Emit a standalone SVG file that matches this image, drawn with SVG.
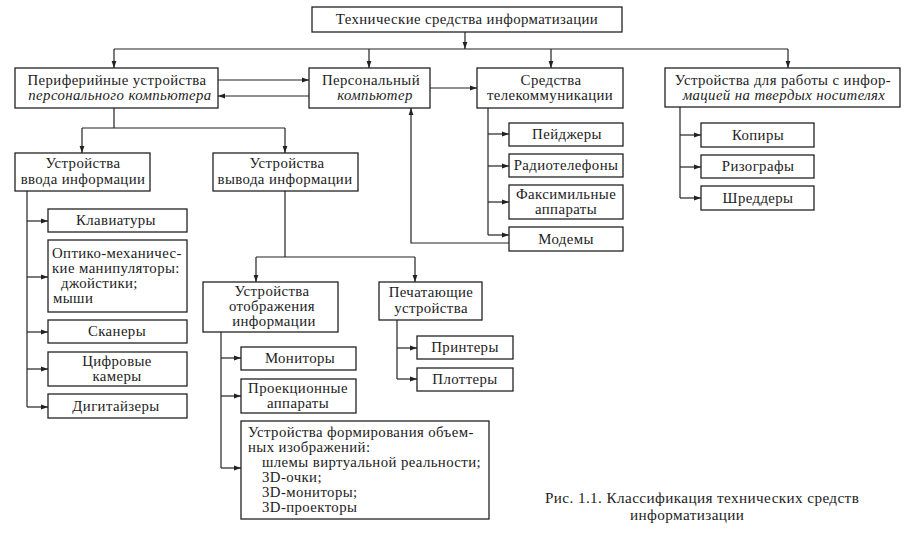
<svg xmlns="http://www.w3.org/2000/svg" width="912" height="536" viewBox="0 0 912 536">
<defs>
<marker id="ah" markerUnits="userSpaceOnUse" markerWidth="8" markerHeight="6" refX="7" refY="3" orient="auto">
<path d="M0,0.6 L7,3 L0,5.4 Z" fill="#222"/>
</marker>
<style>
rect{fill:#fff;stroke:#222;stroke-width:1.3}
text{font-family:"Liberation Serif","Times New Roman",serif;font-size:14.8px;fill:#222;letter-spacing:0.4px}
.c{text-anchor:middle}
.i{font-style:italic}
.cap{font-size:15.2px}
#connectors path{fill:none;stroke:#222;stroke-width:1.2}
.a{marker-end:url(#ah)}
</style>
</defs>
<rect x="0" y="0" width="912" height="536" style="fill:#fff;stroke:none"/>
<g id="connectors">
<path class="a" d="M465,32 V49"/>
<path d="M114,49 H788"/>
<path class="a" d="M114,49 V68"/>
<path class="a" d="M369,49 V68"/>
<path class="a" d="M551,49 V68"/>
<path class="a" d="M788,49 V68"/>
<path class="a" d="M218,80 H309"/>
<path class="a" d="M309,96 H218"/>
<path class="a" d="M430,88 H477"/>
<path d="M488,108 V235"/>
<path class="a" d="M488,134 H509"/>
<path class="a" d="M488,166 H509"/>
<path class="a" d="M488,202 H509"/>
<path class="a" d="M488,235 H509"/>
<path class="a" d="M509,243 H411 V108"/>
<path d="M680,107 V198"/>
<path class="a" d="M680,135 H701"/>
<path class="a" d="M680,167 H701"/>
<path class="a" d="M680,198 H701"/>
<path d="M114,108 V128 M82,128 H285"/>
<path class="a" d="M82,128 V153"/>
<path class="a" d="M285,128 V153"/>
<path d="M27,191 V407"/>
<path class="a" d="M27,221 H48"/>
<path class="a" d="M27,277 H48"/>
<path class="a" d="M27,332 H48"/>
<path class="a" d="M27,369 H48"/>
<path class="a" d="M27,407 H48"/>
<path d="M285,191 V257 M256,257 H415"/>
<path class="a" d="M256,257 V282"/>
<path class="a" d="M415,257 V282"/>
<path d="M221,332 V468"/>
<path class="a" d="M221,358 H241"/>
<path class="a" d="M221,396 H241"/>
<path class="a" d="M221,468 H241"/>
<path d="M397,320 V379"/>
<path class="a" d="M397,348 H417"/>
<path class="a" d="M397,379 H417"/>
</g>
<g id="n-top"><rect x="312" y="7" width="310" height="25"/><text class="c" x="467" y="24">Технические средства информатизации</text></g>
<g id="n-periph"><rect x="15" y="68" width="203" height="40"/><text class="c" x="117" y="85">Периферийные устройства</text><text class="c i" x="120" y="100">персонального компьютера</text></g>
<g id="n-pc"><rect x="309" y="68" width="121" height="40"/><text class="c" x="371" y="85">Персональный</text><text class="c i" x="375" y="100">компьютер</text></g>
<g id="n-telecom"><rect x="477" y="68" width="146" height="40"/><text class="c" x="551" y="85">Средства</text><text class="c" x="550" y="100">телекоммуникации</text></g>
<g id="n-hard"><rect x="665" y="68" width="235" height="39"/><text class="c" x="783" y="85">Устройства для работы с инфор-</text><text class="c i" x="784" y="100">мацией на твердых носителях</text></g>
<g id="n-pager"><rect x="509" y="123" width="114" height="23"/><text class="c" x="567" y="139">Пейджеры</text></g>
<g id="n-radio"><rect x="509" y="154" width="114" height="23"/><text class="c" x="566" y="170">Радиотелефоны</text></g>
<g id="n-fax"><rect x="509" y="185" width="114" height="34"/><text class="c" x="566" y="199">Факсимильные</text><text class="c" x="566" y="214">аппараты</text></g>
<g id="n-modem"><rect x="509" y="227" width="114" height="24"/><text class="c" x="566" y="244">Модемы</text></g>
<g id="n-copy"><rect x="701" y="123" width="113" height="24"/><text class="c" x="758" y="140">Копиры</text></g>
<g id="n-riso"><rect x="701" y="155" width="113" height="23"/><text class="c" x="758" y="171">Ризографы</text></g>
<g id="n-shred"><rect x="701" y="186" width="113" height="24"/><text class="c" x="758" y="203">Шреддеры</text></g>
<g id="n-input"><rect x="15" y="153" width="135" height="38"/><text class="c" x="83" y="168">Устройства</text><text class="c" x="83" y="184">ввода информации</text></g>
<g id="n-output"><rect x="213" y="153" width="145" height="38"/><text class="c" x="287" y="168">Устройства</text><text class="c" x="285" y="184">вывода информации</text></g>
<g id="n-keyb"><rect x="48" y="209" width="139" height="23"/><text class="c" x="116" y="225">Клавиатуры</text></g>
<g id="n-opto"><rect x="48" y="240" width="139" height="72"/><text x="52" y="258">Оптико-механичес-</text><text x="52" y="273">кие манипуляторы:</text><text x="61" y="288">джойстики;</text><text x="53" y="303">мыши</text></g>
<g id="n-scan"><rect x="48" y="320" width="139" height="23"/><text class="c" x="117" y="336">Сканеры</text></g>
<g id="n-cam"><rect x="48" y="352" width="139" height="34"/><text class="c" x="117" y="366">Цифровые</text><text class="c" x="117" y="381">камеры</text></g>
<g id="n-digi"><rect x="48" y="394" width="139" height="24"/><text class="c" x="116" y="411">Дигитайзеры</text></g>
<g id="n-display"><rect x="203" y="282" width="135" height="50"/><text class="c" x="272" y="296">Устройства</text><text class="c" x="272" y="311">отображения</text><text class="c" x="274" y="326">информации</text></g>
<g id="n-print"><rect x="379" y="282" width="103" height="38"/><text class="c" x="431" y="297">Печатающие</text><text class="c" x="431" y="313">устройства</text></g>
<g id="n-monitors"><rect x="241" y="347" width="115" height="23"/><text class="c" x="300" y="363">Мониторы</text></g>
<g id="n-proj"><rect x="241" y="379" width="115" height="34"/><text class="c" x="298" y="393">Проекционные</text><text class="c" x="298" y="408">аппараты</text></g>
<g id="n-3d"><rect x="241" y="421" width="248" height="98"/><text x="248" y="437">Устройства формирования объем-</text><text x="248" y="452">ных изображений:</text><text x="262" y="467">шлемы виртуальной реальности;</text><text x="262" y="482">3D-очки;</text><text x="262" y="497">3D-мониторы;</text><text x="262" y="512">3D-проекторы</text></g>
<g id="n-printers"><rect x="417" y="336" width="96" height="23"/><text class="c" x="465" y="352">Принтеры</text></g>
<g id="n-plotters"><rect x="417" y="368" width="96" height="23"/><text class="c" x="465" y="384">Плоттеры</text></g>
<g id="caption"><text class="cap" x="545" y="503">Рис. 1.1. Классификация технических средств</text><text class="cap" x="630" y="520">информатизации</text></g>
</svg>
